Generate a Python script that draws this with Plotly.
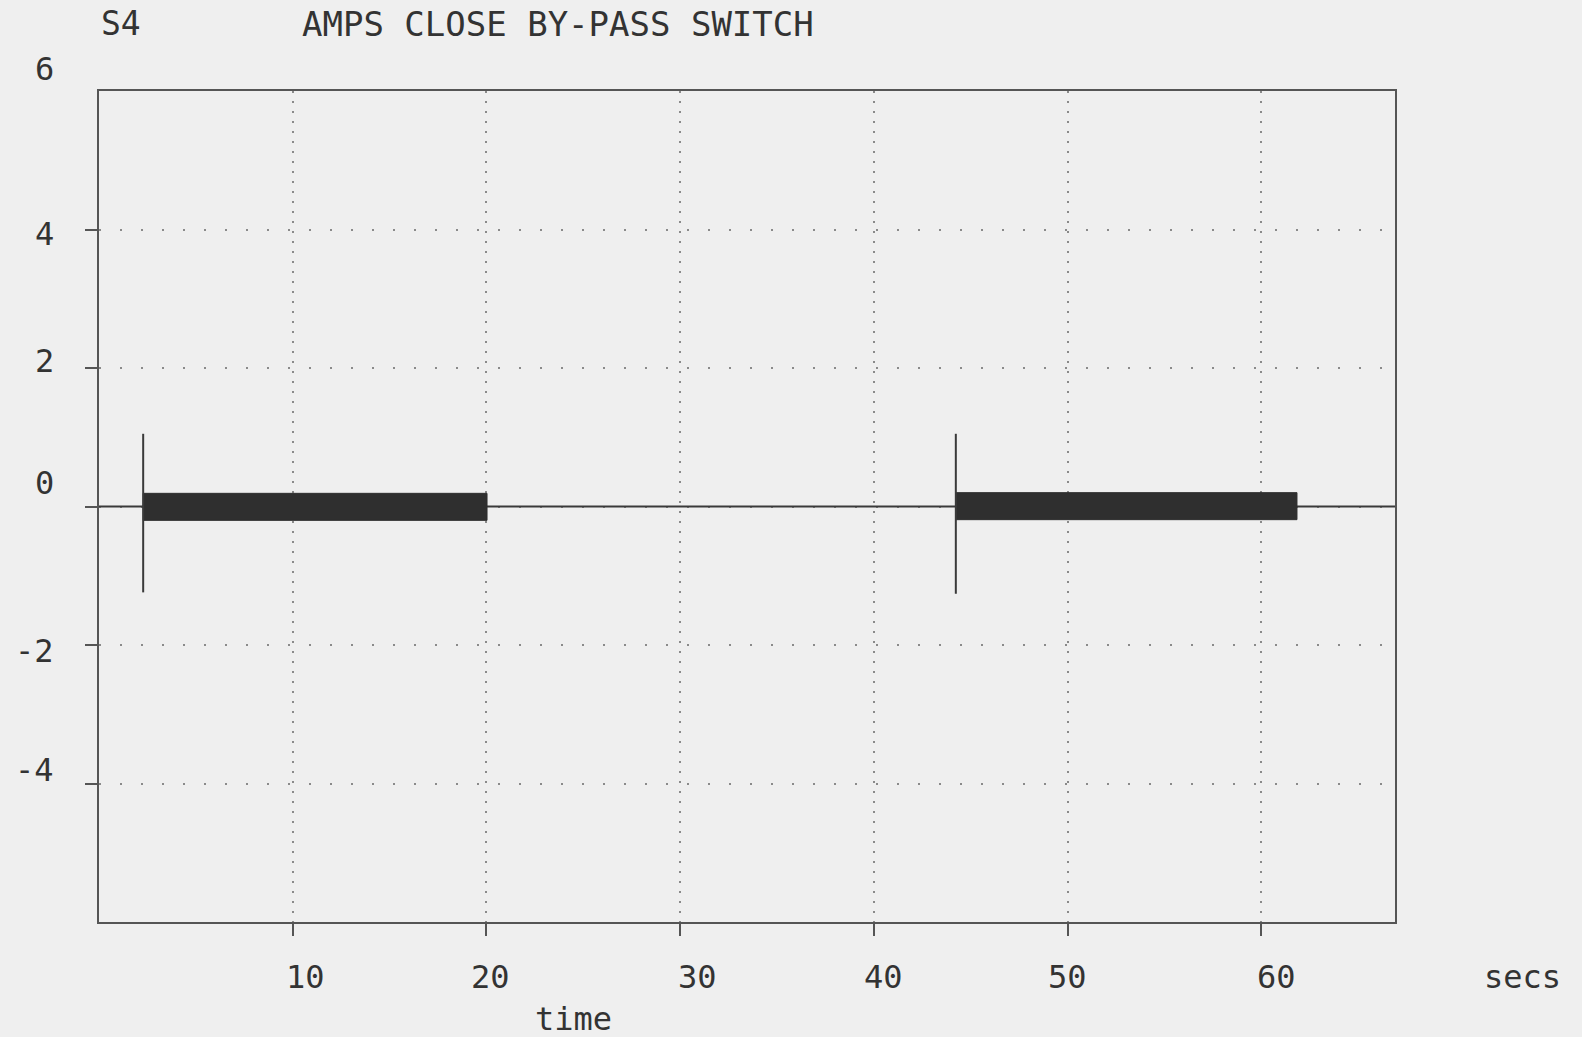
import plotly.graph_objects as go

# datos (tiempo en s, amperios)
burst_on = [2.28, 44.23]
burst_off = [20.03, 61.84]
burst_top = [0.19, 0.20]
burst_bottom = [-0.20, -0.19]
spike_top = [1.05, 1.05]
spike_bottom = [-1.24, -1.26]
baseline_t = [-1.0, 67.5]
baseline_amps = [0.0, 0.0]

x_ticks = [10, 20, 30, 40, 50, 60]
x_tick_labels = ["10", "20", "30", "40", "50", "60"]
y_ticks = [6, 4, 2, 0, -2, -4]
y_tick_labels = ["6", "4", "2", "0", "-2", "-4"]

FUENTE = "DejaVu Sans Mono"
TINTA = "#333333"
FONDO = "#efefef"

fig = go.Figure()

# linea de base (senal en cero fuera de las rafagas)
fig.add_trace(go.Scatter(x=baseline_t, y=baseline_amps, mode="lines",
                         line=dict(color="#3a3a3a", width=2), hoverinfo="skip"))

for t0, t1, hi, lo, sp_hi, sp_lo in zip(burst_on, burst_off, burst_top, burst_bottom,
                                         spike_top, spike_bottom):
    # envolvente de la oscilacion
    fig.add_trace(go.Scatter(x=[t0, t1, t1, t0, t0], y=[hi, hi, lo, lo, hi],
                             mode="lines", fill="toself", fillcolor="#2f2f2f",
                             line=dict(color="#2f2f2f", width=1), hoverinfo="skip"))
    # pico de conmutacion
    fig.add_trace(go.Scatter(x=[t0, t0], y=[sp_lo, sp_hi], mode="lines",
                             line=dict(color="#3a3a3a", width=2), hoverinfo="skip"))

anotaciones = [
    dict(text="S4", x=0.0, y=1.081, xref="paper", yref="paper", xanchor="left",
         yanchor="middle", showarrow=False, font=dict(family=FUENTE, size=33, color=TINTA)),
    dict(text="AMPS CLOSE BY-PASS SWITCH", x=0.155, y=1.081, xref="paper", yref="paper",
         xanchor="left", yanchor="middle", showarrow=False,
         font=dict(family=FUENTE, size=34, color=TINTA)),
    dict(text="time", x=0.366, y=-0.117, xref="paper", yref="paper", xanchor="center",
         yanchor="middle", showarrow=False, font=dict(family=FUENTE, size=32, color=TINTA)),
    dict(text="secs", x=1.098, y=-0.066, xref="paper", yref="paper", xanchor="center",
         yanchor="middle", showarrow=False, font=dict(family=FUENTE, size=32, color=TINTA)),
]

# etiquetas desalineadas como en el escaneo
x_shift = [13, 4, 17, 10, 0, 15]
for val, lab, dx in zip(x_ticks, x_tick_labels, x_shift):
    anotaciones.append(dict(text=lab, x=val, y=-0.066, xref="x", yref="paper",
                            xanchor="center", yanchor="middle", xshift=dx, showarrow=False,
                            font=dict(family=FUENTE, size=32, color=TINTA)))

y_shift = [22, -4, 7, 24, -6, 14]
for val, lab, dy in zip(y_ticks, y_tick_labels, y_shift):
    anotaciones.append(dict(text=lab, x=-0.033, y=val, xref="paper", yref="y",
                            xanchor="right", yanchor="middle", yshift=dy, showarrow=False,
                            font=dict(family=FUENTE, size=32, color=TINTA)))

fig.update_layout(
    width=1582, height=1037,
    paper_bgcolor=FONDO, plot_bgcolor=FONDO,
    showlegend=False,
    margin=dict(l=99, r=187, t=91, b=115),
    annotations=anotaciones,
    xaxis=dict(range=[0, 66.9], tickvals=x_ticks, showticklabels=False,
               ticks="outside", ticklen=12, tickwidth=2, tickcolor="#555555",
               showline=True, mirror=True, linecolor="#555555", linewidth=2,
               showgrid=True, gridcolor="#8a8a8a", gridwidth=2, griddash="2px,8px",
               zeroline=False),
    yaxis=dict(range=[-6, 6], tickvals=[4, 2, 0, -2, -4], showticklabels=False,
               ticks="outside", ticklen=12, tickwidth=2, tickcolor="#555555",
               showline=True, mirror=True, linecolor="#555555", linewidth=2,
               showgrid=True, gridcolor="#8a8a8a", gridwidth=2, griddash="2px,19px",
               zeroline=False),
)

# quitar el margen blanco del body de la pagina
fig.write_html("out.html", config={"displayModeBar": False},
               post_script="document.body.style.margin='0';"
                           "document.body.style.overflow='hidden';"
                           "document.body.style.background='#efefef';")
